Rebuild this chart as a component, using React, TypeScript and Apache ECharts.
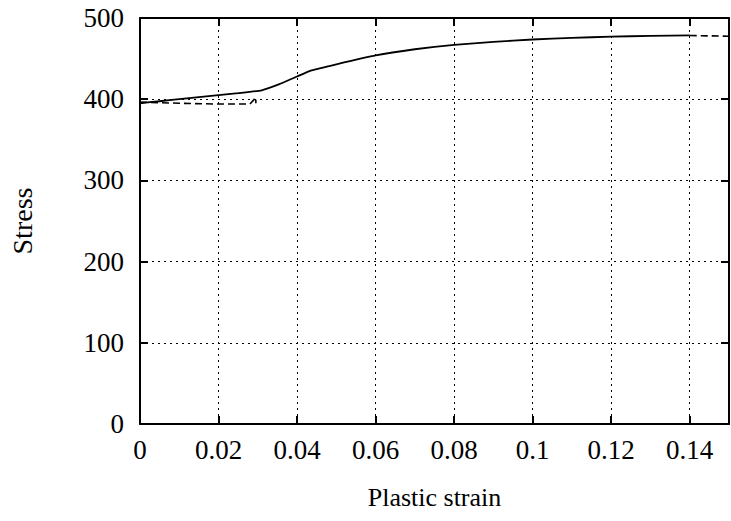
import React, { useEffect, useRef } from "react";
import * as echarts from "echarts";

const solidX = [0, 0.005, 0.01, 0.015, 0.02, 0.025, 0.031, 0.0355, 0.04, 0.0437, 0.05, 0.06, 0.07, 0.08, 0.09, 0.1, 0.11, 0.12, 0.13, 0.14];
const solidY = [395, 397.5, 400, 402.5, 405, 407.5, 411, 418.5, 428, 435.5, 443, 454, 461.5, 467, 470.5, 473.5, 475.5, 477, 478, 478.5];

const dashStartX = [0, 0.01, 0.02, 0.028, 0.0295, 0.0295];
const dashStartY = [396.5, 395, 394, 394, 402, 395];

const dashEndX = [0.14, 0.15];
const dashEndY = [478.5, 477.5];

const xTicks = { min: 0, max: 0.15, interval: 0.02 };
const yTicks = { min: 0, max: 500, interval: 100 };

const xName = "Plastic strain";
const yName = "Stress";

const zip = (xs: number[], ys: number[]) => xs.map((x, i) => [x, ys[i]]);

export default function App() {
  const ref = useRef<HTMLDivElement>(null);
  useEffect(() => {
    if (!ref.current) return;
    const chart = echarts.init(ref.current, null, { renderer: "svg" });
    const font = "Liberation Serif";
    const axisLine = { show: true, onZero: false, lineStyle: { color: "#000", width: 2 } };
    const tick = { show: true, inside: true, length: 8, lineStyle: { color: "#000", width: 2 } };
    const fmt = (v: number) => String(parseFloat(v.toFixed(2)));
    chart.setOption({
      animation: false,
      backgroundColor: "#fff",
      grid: { left: 140, top: 18, right: 2, bottom: 97, containLabel: false },
      xAxis: [
        {
          type: "value",
          ...xTicks,
          position: "bottom",
          name: xName,
          nameLocation: "middle",
          nameGap: 60,
          nameTextStyle: { fontFamily: font, fontSize: 26, color: "#000" },
          axisLine,
          axisTick: tick,
          axisLabel: { fontFamily: font, fontSize: 27, color: "#000", margin: 12, formatter: fmt, showMaxLabel: false },
          splitLine: { show: true, lineStyle: { color: "#000", width: 1, type: [2, 4] } },
        },
        {
          type: "value",
          ...xTicks,
          position: "top",
          axisLine,
          axisTick: tick,
          axisLabel: { show: false },
          splitLine: { show: false },
        },
      ],
      yAxis: [
        {
          type: "value",
          ...yTicks,
          position: "left",
          name: yName,
          nameLocation: "middle",
          nameGap: 104,
          nameTextStyle: { fontFamily: font, fontSize: 28, color: "#000" },
          axisLine,
          axisTick: tick,
          axisLabel: { fontFamily: font, fontSize: 27, color: "#000", margin: 16 },
          splitLine: { show: true, lineStyle: { color: "#000", width: 1, type: [2, 4] } },
        },
        {
          type: "value",
          ...yTicks,
          position: "right",
          axisLine,
          axisTick: tick,
          axisLabel: { show: false },
          splitLine: { show: false },
        },
      ],
      series: [
        {
          type: "line",
          data: zip(dashStartX, dashStartY),
          showSymbol: false,
          symbol: "none",
          lineStyle: { color: "#000", width: 1.6, type: [7, 4] },
        },
        {
          type: "line",
          data: zip(dashEndX, dashEndY),
          showSymbol: false,
          symbol: "none",
          lineStyle: { color: "#000", width: 1.6, type: [7, 4] },
        },
        {
          type: "line",
          data: zip(solidX, solidY),
          showSymbol: false,
          symbol: "none",
          smooth: 0.15,
          lineStyle: { color: "#000", width: 1.8 },
        },
      ],
    });
    return () => chart.dispose();
  }, []);
  return <div ref={ref} style={{ width: 731, height: 521, position: "absolute", left: 0, top: 0 }} />;
}
